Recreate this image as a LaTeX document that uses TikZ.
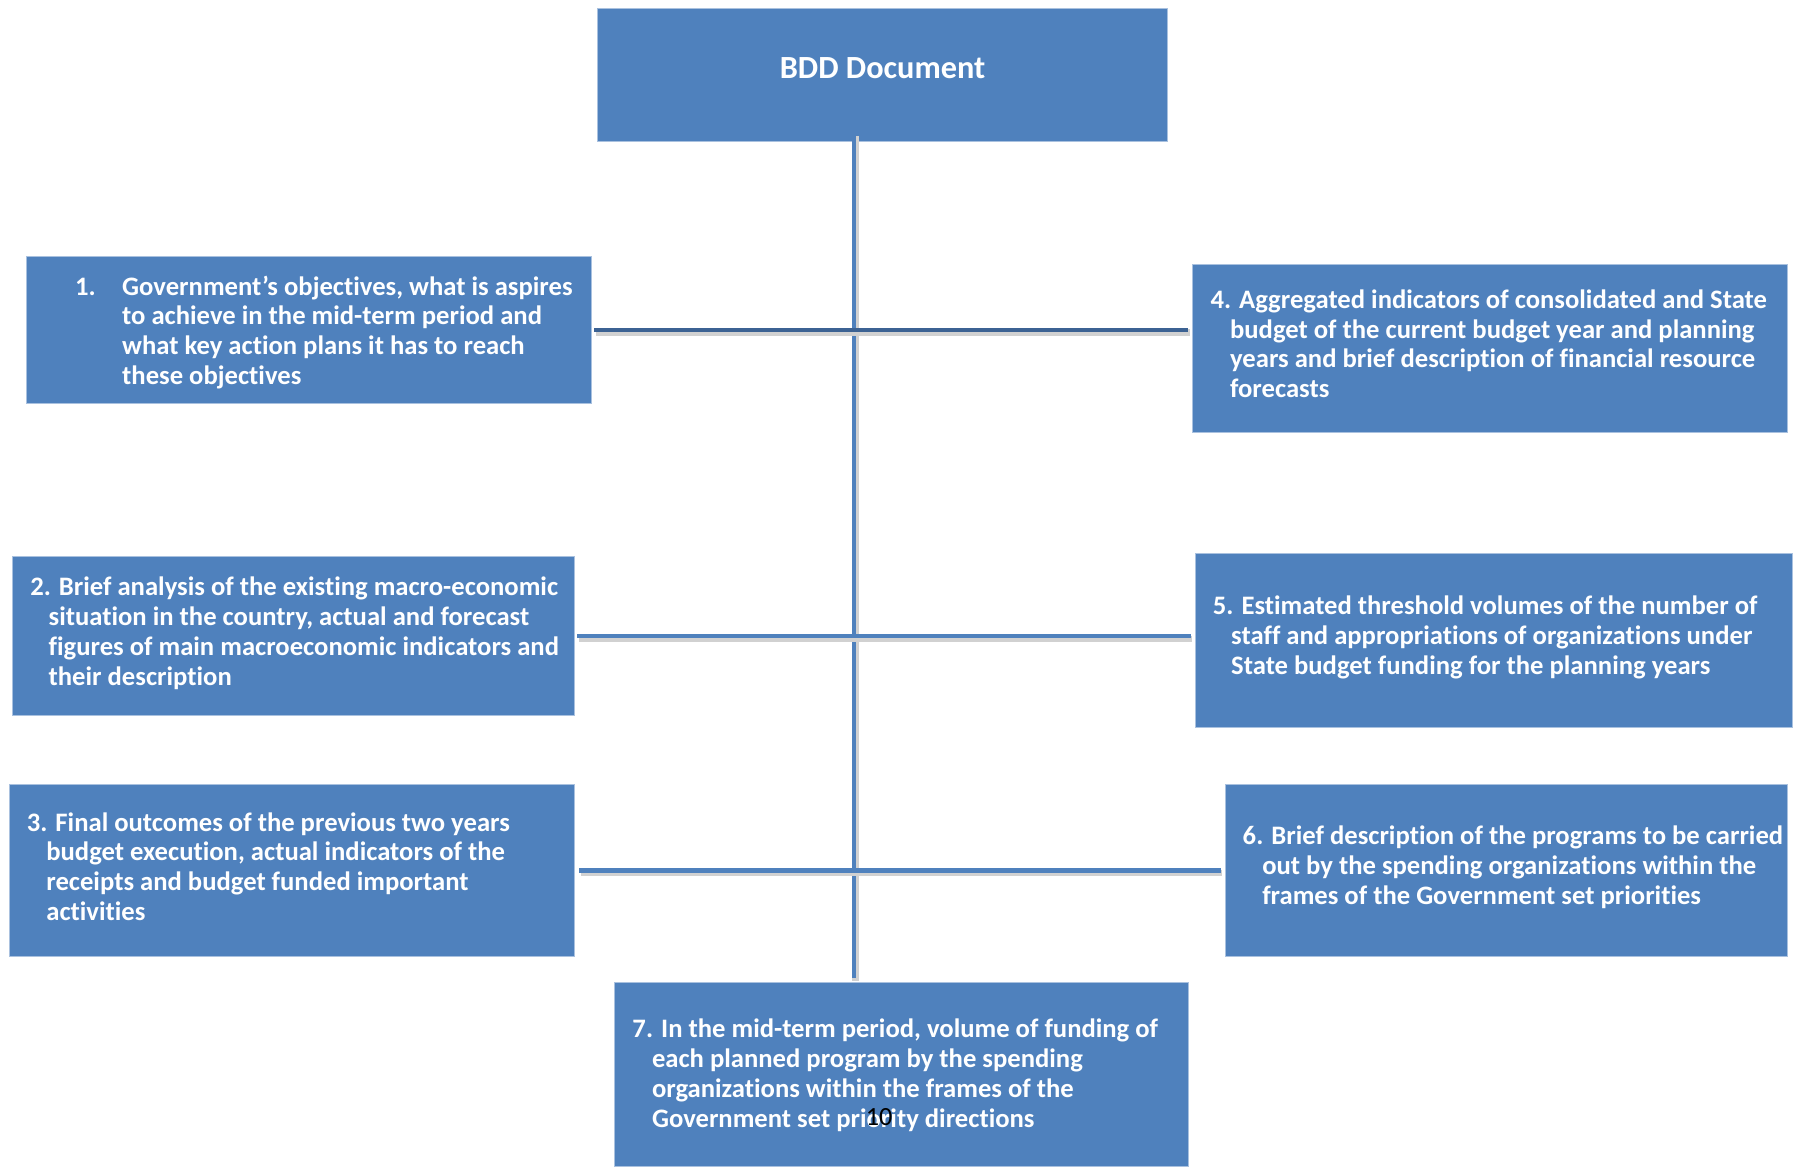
\documentclass[tikz,border=0pt]{standalone}
\usepackage{fontspec}
\setmainfont{Carlito}[Ligatures = CommonOff]
\usepackage{tikz}
\usetikzlibrary{calc}

\definecolor{boxblue}{HTML}{4F81BD}
\definecolor{boxedge}{HTML}{A9C1DF}
\definecolor{darkline}{HTML}{3C6293}

\begin{document}
\begin{tikzpicture}[x=0.02cm, y=-0.02cm,
		box/.style = {fill = boxblue, draw = boxedge, line width = 0.5pt, inner sep = 0pt},
		txt/.style = {anchor = north west, align = left, inner sep = 0pt, text = white,
			font = \fontsize{13.2}{14.8}\selectfont\bfseries},
		conn/.style = {line width = 2.3pt, draw = boxblue,
			preaction = {draw = black!18, line width = 3.2pt, transform canvas = {shift = {(0.7pt, -1.3pt)}}}}]
		\def\ind{0.34cm};
		
		\useasboundingbox (0, 0) rectangle (1568, 1015);
		
		% boxes
		\node [box, minimum width = 9.92cm, minimum height = 2.32cm] (bdd) at (768, 65) {};
		\node [box, minimum width = 9.84cm, minimum height = 2.56cm] (b1) at (269, 287) {};
		\node [box, minimum width = 9.78cm, minimum height = 2.78cm] (b2) at (255.5, 553.5) {};
		\node [box, minimum width = 9.84cm, minimum height = 2.98cm] (b3) at (254, 757.5) {};
		\node [box, minimum width = 10.34cm, minimum height = 2.92cm] (b4) at (1296.5, 303) {};
		\node [box, minimum width = 10.4cm, minimum height = 3.02cm] (b5) at (1300, 557.5) {};
		\node [box, minimum width = 9.78cm, minimum height = 2.98cm] (b6) at (1310.5, 757.5) {};
		\node [box, minimum width = 9.98cm, minimum height = 3.2cm] (b7) at (784.5, 935) {};
		
		% connectors
		\coordinate (top) at (743, 116);
		\draw [conn] (top) -- ([yshift = 2pt] top |- b7.north);
		\draw [conn, draw = darkline] ([xshift = 1pt] b1.east) -- ([xshift = -2pt] b1.east -| b4.west);
		\draw [conn] ([xshift = 1pt] b2.east) -- ([xshift = -2pt] b2.east -| b5.west);
		\draw [conn] ([xshift = 2pt] b3.east) -- ([xshift = -2pt] b3.east -| b6.west);
		
		% texts
		\node [text = white, font = \fontsize{16}{19}\selectfont\bfseries] (tbdd) at (768, 59) {BDD Document};
		\node [txt] (t1) at (65, 239.5) {\makebox[0.82cm][l]{1.}Government’s objectives, what is aspires\\
			\hspace*{0.82cm}to achieve in the mid-term period and\\
			\hspace*{0.82cm}what key action plans it has to reach\\
			\hspace*{0.82cm}these objectives};
		\node [txt] (t2) at (26, 501.5) {2. Brief analysis of the existing macro-economic\\
			\hspace*{0.32cm}situation in the country, actual and forecast\\
			\hspace*{0.32cm}figures of main macroeconomic indicators and\\
			\hspace*{0.32cm}their description};
		\node [txt] (t3) at (23, 706.5) {3. Final outcomes of the previous two years\\
			\hspace*{\ind}budget execution, actual indicators of the\\
			\hspace*{\ind}receipts and budget funded important\\
			\hspace*{\ind}activities};
		\node [txt] (t4) at (1053, 251.5) {4. Aggregated indicators of consolidated and State\\
			\hspace*{\ind}budget of the current budget year and planning\\
			\hspace*{\ind}years and brief description of financial resource\\
			\hspace*{\ind}forecasts};
		\node [txt] (t5) at (1055, 518.5) {5. Estimated threshold volumes of the number of\\
			\hspace*{0.32cm}staff and appropriations of organizations under\\
			\hspace*{0.32cm}State budget funding for the planning years};
		\node [txt] (t6) at (1081, 718.5) {6. Brief description of the programs to be carried\\
			\hspace*{\ind}out by the spending organizations within the\\
			\hspace*{\ind}frames of the Government set priorities};
		\node [txt] (t7) at (550, 886.5) {7. In the mid-term period, volume of funding of\\
			\hspace*{\ind}each planned program by the spending\\
			\hspace*{\ind}organizations within the frames of the\\
			\hspace*{\ind}Government set priority directions};
		
		% page number
		\node [font = \fontsize{13}{15}\selectfont] (page) at (765, 972) {10};
	\end{tikzpicture}
\end{document}
